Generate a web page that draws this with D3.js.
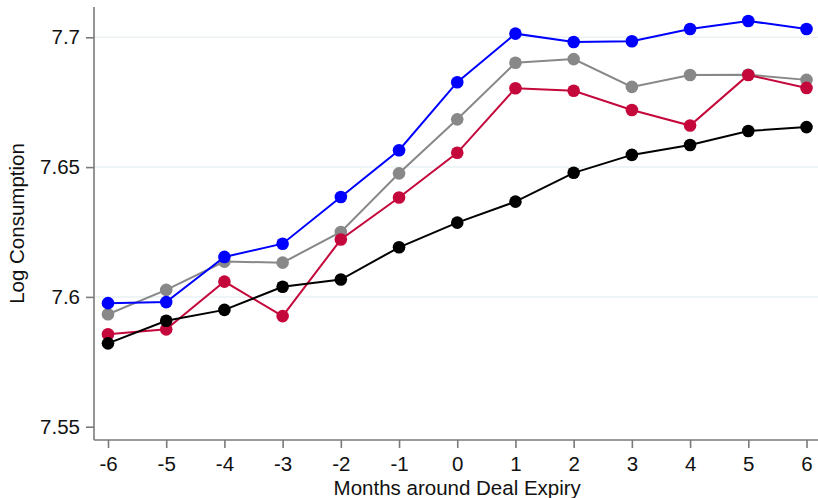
<!DOCTYPE html>
<html>
<head>
<meta charset="utf-8">
<script src="https://cdn.jsdelivr.net/npm/d3@7"></script>
<style>
  body { margin: 0; background: #fff; }
  svg { display: block; font-family: "Liberation Sans", Arial, sans-serif; }
</style>
</head>
<body>
<div id="chart"></div>
<script>
// months around deal expiry
const months = [-6, -5, -4, -3, -2, -1, 0, 1, 2, 3, 4, 5, 6];
const yTicks = [7.55, 7.6, 7.65, 7.7];

// series values
const blueSeries  = [7.5976, 7.5980, 7.6154, 7.6205, 7.6385, 7.6565, 7.6827, 7.7014, 7.6982, 7.6985, 7.7032, 7.7063, 7.7032];
const graySeries  = [7.5933, 7.6027, 7.6136, 7.6132, 7.6250, 7.6476, 7.6684, 7.6902, 7.6916, 7.6809, 7.6855, 7.6856, 7.6836];
const redSeries   = [7.5856, 7.5875, 7.6059, 7.5926, 7.6221, 7.6383, 7.6555, 7.6804, 7.6794, 7.6720, 7.6660, 7.6855, 7.6805];
const blackSeries = [7.5821, 7.5908, 7.5950, 7.6039, 7.6067, 7.6191, 7.6286, 7.6367, 7.6478, 7.6547, 7.6585, 7.6639, 7.6654];

const width = 818, height = 498;

const svg = d3.select("#chart").append("svg")
    .attr("width", width)
    .attr("height", height);

// axis range in pixels
const plotLeft = 94, plotBottom = 440, plotTop = 7, plotRight = 818;

const x = d3.scaleLinear().domain([-6, 6]).range([108, 806.5]);
const y = d3.scaleLinear().domain([7.55, 7.7]).range([426.7, 37.3]);

// grid lines
svg.append("g").selectAll("line")
    .data([7.6, 7.65, 7.7])
    .join("line")
    .attr("x1", plotLeft).attr("x2", plotRight)
    .attr("y1", d => y(d)).attr("y2", d => y(d))
    .style("stroke", "#eaf2f3")
    .style("stroke-width", 1.5);

// y axis
const yAxis = svg.append("g")
    .attr("transform", "translate(" + plotLeft + ",0)")
    .call(d3.axisLeft(y).tickValues(yTicks).tickFormat(d => String(d)).tickSize(8).tickPadding(6));
yAxis.select(".domain").attr("d", "M0," + plotTop + "V" + plotBottom);

// x axis (plain hyphen for negatives, like the original)
const xAxis = svg.append("g")
    .attr("transform", "translate(0," + plotBottom + ")")
    .call(d3.axisBottom(x).tickValues(months).tickFormat(d => String(d)).tickSize(8).tickPadding(8));
xAxis.select(".domain").attr("d", "M" + plotLeft + ",0H" + plotRight);

svg.selectAll(".domain, .tick line")
    .style("stroke", "#7a7a7a")
    .style("stroke-width", 1.6);
svg.selectAll(".tick text")
    .style("font-size", "20.5px")
    .style("font-family", "Liberation Sans, Arial, sans-serif")
    .style("fill", "#111");

// x axis title
svg.append("text")
    .attr("x", (x(-6) + x(6)) / 2)
    .attr("y", 495)
    .attr("text-anchor", "middle")
    .style("font-size", "20.5px")
    .style("fill", "#111")
    .text("Months around Deal Expiry");

// y axis title
svg.append("text")
    .attr("transform", "translate(24," + ((plotTop + plotBottom) / 2) + ") rotate(-90)")
    .attr("text-anchor", "middle")
    .style("font-size", "20.5px")
    .style("fill", "#111")
    .text("Log Consumption");

const series = [
    { values: graySeries, color: "#888888" },
    { values: redSeries, color: "#c5083b" },
    { values: blueSeries, color: "#0000ff" },
    { values: blackSeries, color: "#000000" }
];

const line = d3.line()
    .x((d, i) => x(months[i]))
    .y(d => y(d));

series.forEach(function(s) {
    const g = svg.append("g");
    g.append("path")
        .attr("d", line(s.values))
        .style("fill", "none")
        .style("stroke", s.color)
        .style("stroke-width", 2);
    g.selectAll("circle")
        .data(s.values)
        .join("circle")
        .attr("cx", (d, i) => x(months[i]))
        .attr("cy", d => y(d))
        .attr("r", 6.3)
        .style("fill", s.color);
});
</script>
</body>
</html>
